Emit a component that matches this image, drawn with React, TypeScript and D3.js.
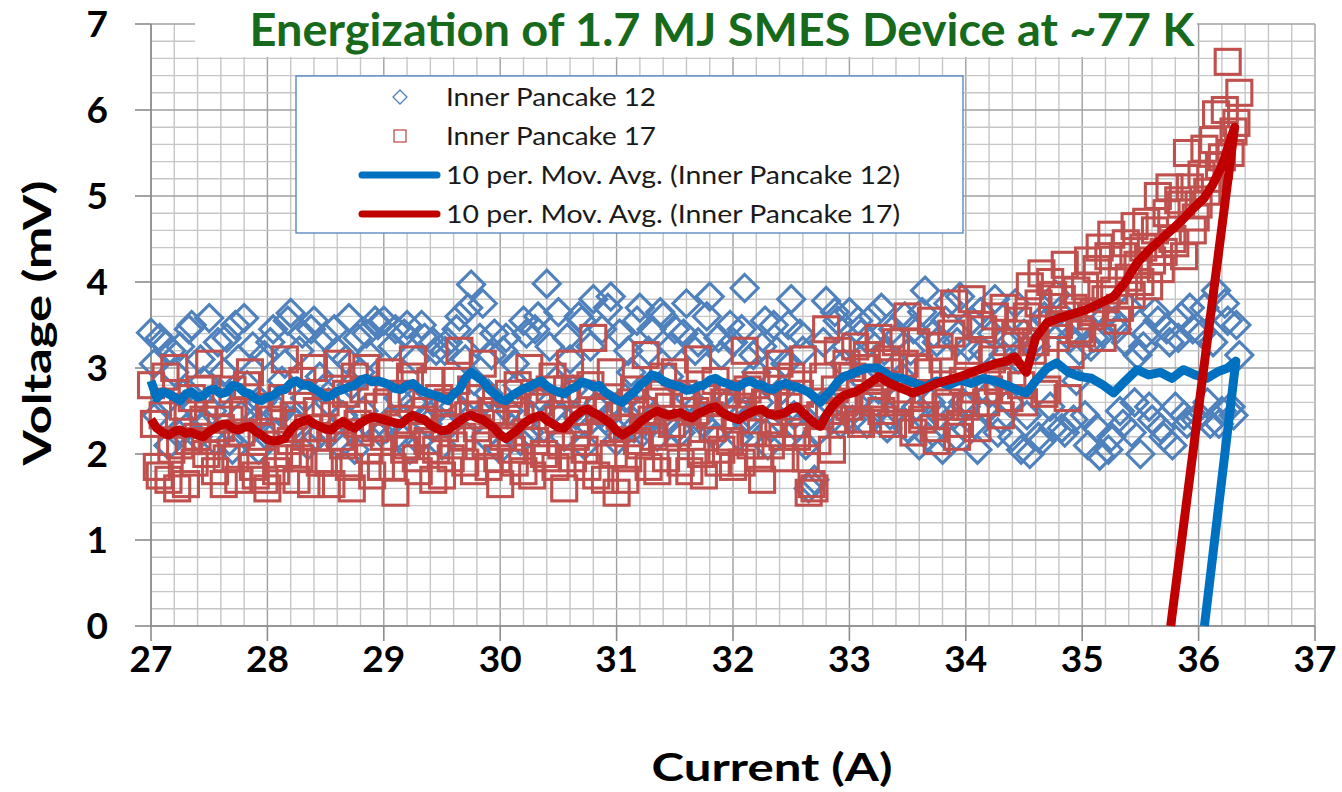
import React from 'react';
import * as d3 from 'd3';

// ---------- data ----------
const currents = [
  27, 27.025, 27.05, 27.075, 27.1, 27.125, 27.15, 27.175, 27.2, 27.225, 27.25, 27.275, 27.3, 27.325, 27.35, 27.375, 27.4, 27.425, 27.45, 27.475,
  27.5, 27.525, 27.55, 27.575, 27.6, 27.625, 27.65, 27.675, 27.7, 27.725, 27.75, 27.775, 27.8, 27.825, 27.85, 27.875, 27.9, 27.925, 27.95, 27.975,
  28, 28.025, 28.05, 28.075, 28.1, 28.125, 28.15, 28.175, 28.2, 28.225, 28.25, 28.275, 28.3, 28.325, 28.35, 28.375, 28.4, 28.425, 28.45, 28.475,
  28.5, 28.525, 28.55, 28.575, 28.6, 28.625, 28.65, 28.675, 28.7, 28.725, 28.75, 28.775, 28.8, 28.825, 28.85, 28.875, 28.9, 28.925, 28.95, 28.975,
  29, 29.025, 29.05, 29.075, 29.1, 29.125, 29.15, 29.175, 29.2, 29.225, 29.25, 29.275, 29.3, 29.325, 29.35, 29.375, 29.4, 29.425, 29.45, 29.475,
  29.5, 29.525, 29.55, 29.575, 29.6, 29.625, 29.65, 29.675, 29.7, 29.725, 29.75, 29.775, 29.8, 29.825, 29.85, 29.875, 29.9, 29.925, 29.95, 29.975,
  30, 30.025, 30.05, 30.075, 30.1, 30.125, 30.15, 30.175, 30.2, 30.225, 30.25, 30.275, 30.3, 30.325, 30.35, 30.375, 30.4, 30.425, 30.45, 30.475,
  30.5, 30.525, 30.55, 30.575, 30.6, 30.625, 30.65, 30.675, 30.7, 30.725, 30.75, 30.775, 30.8, 30.825, 30.85, 30.875, 30.9, 30.925, 30.95, 30.975,
  31, 31.025, 31.05, 31.075, 31.1, 31.125, 31.15, 31.175, 31.2, 31.225, 31.25, 31.275, 31.3, 31.325, 31.35, 31.375, 31.4, 31.425, 31.45, 31.475,
  31.5, 31.525, 31.55, 31.575, 31.6, 31.625, 31.65, 31.675, 31.7, 31.725, 31.75, 31.775, 31.8, 31.825, 31.85, 31.875, 31.9, 31.925, 31.95, 31.975,
  32, 32.025, 32.05, 32.075, 32.1, 32.125, 32.15, 32.175, 32.2, 32.225, 32.25, 32.275, 32.3, 32.325, 32.35, 32.375, 32.4, 32.425, 32.45, 32.475,
  32.5, 32.525, 32.55, 32.575, 32.6, 32.625, 32.65, 32.675, 32.7, 32.725, 32.75, 32.775, 32.8, 32.825, 32.85, 32.875, 32.9, 32.925, 32.95, 32.975,
  33, 33.025, 33.05, 33.075, 33.1, 33.125, 33.15, 33.175, 33.2, 33.225, 33.25, 33.275, 33.3, 33.325, 33.35, 33.375, 33.4, 33.425, 33.45, 33.475,
  33.5, 33.525, 33.55, 33.575, 33.6, 33.625, 33.65, 33.675, 33.7, 33.725, 33.75, 33.775, 33.8, 33.825, 33.85, 33.875, 33.9, 33.925, 33.95, 33.975,
  34, 34.025, 34.05, 34.075, 34.1, 34.125, 34.15, 34.175, 34.2, 34.225, 34.25, 34.275, 34.3, 34.325, 34.35, 34.375, 34.4, 34.425, 34.45, 34.475,
  34.5, 34.525, 34.55, 34.575, 34.6, 34.625, 34.65, 34.675, 34.7, 34.725, 34.75, 34.775, 34.8, 34.825, 34.85, 34.875, 34.9, 34.925, 34.95, 34.975,
  35, 35.025, 35.05, 35.075, 35.1, 35.125, 35.15, 35.175, 35.2, 35.225, 35.25, 35.275, 35.3, 35.325, 35.35, 35.375, 35.4, 35.425, 35.45, 35.475,
  35.5, 35.525, 35.55, 35.575, 35.6, 35.625, 35.65, 35.675, 35.7, 35.725, 35.75, 35.775, 35.8, 35.825, 35.85, 35.875, 35.9, 35.925, 35.95, 35.975,
  36, 36.025, 36.05, 36.075, 36.1, 36.125, 36.15, 36.175, 36.2, 36.225, 36.25, 36.275, 36.3, 36.325, 36.35,
];

const innerPancake12 = [
  3.41, 3.05, 2.45, 3.35, 3.30, 2.60, 2.10, 3.20, 2.95, 2.25, 3.25, 2.70, 2.30, 3.45, 3.50, 2.55, 2.20, 3.10, 2.85, 2.35,
  3.58, 2.50, 2.15, 3.30, 2.70, 2.95, 3.35, 2.15, 2.05, 3.50, 3.10, 2.45, 3.58, 2.80, 2.25, 3.25, 2.40, 2.05, 2.60, 3.15,
  2.20, 3.30, 3.45, 2.25, 2.50, 2.85, 3.05, 3.55, 3.64, 2.40, 2.35, 3.20, 3.40, 2.65, 2.10, 3.45, 3.55, 2.20, 2.90, 2.75,
  3.35, 2.60, 2.25, 3.45, 3.20, 2.10, 2.45, 3.10, 3.58, 2.80, 2.05, 3.35, 2.95, 2.50, 3.40, 3.15, 2.30, 3.55, 3.50, 2.25,
  3.55, 2.30, 2.40, 3.25, 3.45, 2.65, 2.20, 3.40, 3.50, 2.05, 2.60, 3.10, 2.15, 3.50, 3.35, 2.35, 2.45, 3.30, 3.20, 2.55,
  2.10, 3.20, 3.30, 2.35, 2.55, 3.45, 3.60, 2.50, 3.10, 3.70, 3.97, 2.85, 2.40, 3.35, 3.75, 2.20, 2.70, 3.15, 3.40, 2.45,
  2.05, 3.20, 3.35, 2.50, 2.30, 3.05, 2.80, 2.15, 3.55, 3.40, 2.25, 2.70, 3.45, 3.60, 2.65, 2.30, 3.98, 3.25, 2.50, 2.85,
  3.65, 2.45, 2.20, 3.35, 3.10, 2.75, 2.45, 3.60, 3.55, 2.10, 2.35, 3.25, 3.80, 2.55, 2.60, 3.45, 2.40, 3.70, 3.83, 2.30,
  2.15, 3.40, 2.40, 2.65, 3.20, 2.95, 2.30, 3.55, 3.70, 2.25, 2.55, 3.20, 3.45, 2.45, 2.20, 3.65, 3.60, 2.35, 2.90, 3.25,
  3.45, 2.30, 2.25, 3.40, 3.75, 2.65, 2.50, 3.20, 3.30, 2.45, 2.35, 3.60, 3.83, 2.25, 2.20, 3.35, 3.15, 2.70, 2.60, 3.50,
  3.30, 2.55, 2.20, 3.45, 3.93, 2.35, 2.45, 3.15, 2.95, 2.60, 3.25, 3.55, 2.10, 2.30, 3.50, 3.20, 2.40, 2.75, 3.05, 3.50,
  3.80, 2.45, 2.30, 3.40, 3.20, 2.10, 1.60, 1.65, 1.70, 2.25, 2.55, 3.30, 3.78, 2.60, 2.40, 3.65, 3.55, 2.35, 3.05, 3.25,
  3.65, 2.40, 2.60, 3.55, 3.40, 2.85, 2.35, 3.30, 3.60, 2.50, 2.75, 3.70, 3.20, 2.30, 2.45, 3.45, 3.35, 2.65, 2.90, 3.60,
  2.30, 3.20, 3.45, 2.55, 2.10, 3.65, 3.90, 2.20, 2.60, 3.40, 3.30, 2.45, 2.05, 3.55, 3.75, 2.15, 2.45, 3.30, 3.83, 2.60,
  2.55, 3.25, 3.55, 2.35, 2.05, 3.65, 3.20, 2.50, 2.70, 3.40, 3.80, 2.25, 2.40, 3.15, 3.35, 2.60, 2.20, 3.75, 3.10, 2.05,
  3.40, 2.45, 2.00, 3.30, 3.25, 2.20, 2.15, 3.60, 3.55, 2.55, 2.30, 3.85, 3.65, 2.30, 2.25, 3.50, 3.35, 2.40, 2.85, 3.20,
  3.50, 2.45, 2.10, 3.25, 3.35, 2.30, 1.98, 3.40, 3.60, 2.05, 2.20, 3.55, 3.45, 2.50, 2.35, 3.30, 3.70, 2.25, 2.60, 3.15,
  2.00, 3.25, 3.40, 2.55, 2.40, 3.65, 3.55, 2.30, 2.20, 3.45, 3.30, 2.10, 2.55, 3.35, 3.60, 2.45, 2.35, 3.70, 3.45, 2.40,
  2.45, 3.40, 3.70, 2.60, 2.35, 3.30, 3.90, 2.35, 2.50, 3.75, 3.55, 2.55, 2.45, 3.50, 3.15,
];

const innerPancake17 = [
  2.80, 2.35, 1.85, 1.75, 2.45, 2.90, 1.70, 2.05, 3.00, 1.60, 2.10, 2.55, 1.65, 2.15, 2.65, 1.90, 2.20, 2.75, 2.40, 2.00,
  3.05, 2.15, 1.80, 2.60, 2.30, 1.65, 1.95, 2.40, 2.75, 1.95, 1.70, 2.25, 2.50, 2.80, 2.95, 1.85, 1.75, 2.50, 2.20, 1.70,
  1.60, 2.55, 2.40, 1.80, 1.95, 2.65, 3.10, 2.00, 2.15, 2.45, 1.70, 1.95, 2.85, 2.20, 2.30, 1.65, 3.00, 2.50, 1.90, 2.30,
  2.60, 1.90, 1.65, 2.45, 3.05, 2.20, 2.10, 2.70, 1.85, 1.60, 2.90, 2.35, 2.25, 2.75, 3.00, 2.05, 1.75, 2.30, 2.55, 1.85,
  2.20, 2.60, 2.95, 1.85, 1.55, 2.35, 2.70, 2.05, 2.10, 2.90, 3.10, 1.95, 1.80, 2.40, 2.50, 2.15, 2.85, 1.70, 2.05, 2.65,
  1.75, 2.30, 2.60, 1.95, 2.10, 2.85, 3.20, 2.20, 1.90, 2.45, 2.75, 1.80, 2.30, 2.65, 3.05, 2.10, 1.85, 2.50, 2.45, 1.95,
  1.65, 2.20, 2.35, 2.70, 2.05, 1.90, 2.80, 2.45, 1.80, 2.25, 3.00, 1.75, 2.15, 2.60, 2.55, 2.00, 1.95, 2.75, 2.90, 1.85,
  2.40, 2.10, 1.60, 2.75, 3.05, 1.95, 2.20, 2.40, 2.70, 2.05, 1.85, 2.80, 3.35, 1.75, 2.50, 2.25, 1.70, 2.55, 2.95, 2.00,
  1.55, 2.45, 2.30, 1.70, 1.95, 2.60, 2.75, 2.15, 2.10, 2.50, 3.15, 1.85, 2.40, 2.20, 1.80, 2.70, 2.90, 1.95, 2.55, 2.35,
  2.95, 2.25, 1.90, 2.70, 2.60, 1.80, 2.20, 2.50, 3.10, 2.00, 1.75, 2.65, 2.45, 2.30, 2.85, 1.90, 2.05, 2.60, 2.70, 2.15,
  1.85, 2.40, 2.55, 1.90, 3.20, 2.75, 2.10, 2.25, 2.80, 1.95, 1.70, 2.60, 2.65, 2.10, 2.35, 2.85, 3.05, 2.20, 1.95, 2.55,
  2.90, 2.35, 2.20, 2.70, 3.10, 1.95, 1.55, 1.65, 1.60, 2.15, 2.45, 2.90, 3.45, 2.50, 2.05, 2.75, 3.20, 2.40, 2.60, 3.05,
  2.55, 2.90, 3.25, 2.40, 2.35, 3.00, 3.15, 2.65, 2.60, 2.85, 3.35, 2.50, 2.40, 3.10, 2.95, 2.35, 3.30, 2.60, 2.75, 3.05,
  3.60, 2.65, 2.25, 3.30, 3.00, 2.40, 2.45, 2.95, 3.55, 2.30, 2.15, 3.25, 3.10, 2.55, 2.60, 3.40, 3.75, 2.20, 2.35, 2.85,
  2.55, 3.20, 3.80, 2.75, 2.30, 3.50, 3.45, 2.60, 2.75, 3.10, 3.60, 2.85, 2.45, 3.70, 3.30, 2.65, 2.90, 3.40, 3.55, 2.80,
  2.60, 3.60, 3.95, 3.20, 3.30, 3.75, 4.10, 2.70, 2.75, 4.00, 3.85, 3.35, 3.50, 3.80, 4.20, 2.65, 3.15, 3.70, 3.90, 3.45,
  3.40, 3.95, 4.25, 3.60, 3.65, 4.15, 4.40, 3.35, 3.80, 4.30, 4.55, 3.90, 3.55, 3.70, 4.30, 4.45, 4.05, 3.85, 4.65, 4.20,
  4.00, 4.40, 4.70, 3.95, 4.25, 4.60, 5.00, 4.15, 4.35, 4.80, 5.10, 4.50, 4.45, 4.95, 4.90, 4.30, 5.50, 5.10, 4.60, 4.75,
  4.90, 5.25, 5.55, 5.05, 5.20, 5.65, 5.95, 5.35, 5.45, 6.00, 6.56, 5.50, 5.75, 5.85, 6.20,
];

// 10-period moving-average trendlines as drawn
const movAvg12Current = [
  27, 27.05, 27.1, 27.15, 27.2, 27.25, 27.3, 27.35, 27.4, 27.45, 27.5, 27.55, 27.6, 27.65, 27.7, 27.75, 27.8, 27.85, 27.9, 27.95,
  28, 28.05, 28.1, 28.15, 28.2, 28.25, 28.3, 28.35, 28.4, 28.45, 28.5, 28.55, 28.6, 28.65, 28.7, 28.75, 28.8, 28.85, 28.9, 28.95,
  29, 29.05, 29.1, 29.15, 29.2, 29.25, 29.3, 29.35, 29.4, 29.45, 29.5, 29.55, 29.6, 29.65, 29.7, 29.75, 29.8, 29.85, 29.9, 29.95,
  30, 30.05, 30.1, 30.15, 30.2, 30.25, 30.3, 30.35, 30.4, 30.45, 30.5, 30.55, 30.6, 30.65, 30.7, 30.75, 30.8, 30.85, 30.9, 30.95,
  31, 31.05, 31.1, 31.15, 31.2, 31.25, 31.3, 31.35, 31.4, 31.45, 31.5, 31.55, 31.6, 31.65, 31.7, 31.75, 31.8, 31.85, 31.9, 31.95,
  32, 32.05, 32.1, 32.15, 32.2, 32.25, 32.3, 32.35, 32.4, 32.45, 32.5, 32.55, 32.6, 32.65, 32.7, 32.75, 32.8, 32.85, 32.9, 32.95,
  33, 33.05, 33.15, 33.25, 33.35, 33.45, 33.55, 33.65, 33.75, 33.85, 33.95,
  34.05, 34.15, 34.25, 34.35, 34.45, 34.52, 34.6, 34.7, 34.78, 34.88, 34.98,
  35.08, 35.18, 35.27, 35.37, 35.47, 35.57, 35.67, 35.77, 35.87, 35.97,
  36.07, 36.17, 36.25, 36.32, 36.05,
];
const movAvg12Voltage = [
  2.85, 2.65, 2.72, 2.70, 2.66, 2.62, 2.70, 2.72, 2.66, 2.68, 2.74, 2.75, 2.70, 2.72, 2.80, 2.78, 2.72, 2.70, 2.64, 2.62,
  2.66, 2.68, 2.74, 2.75, 2.82, 2.85, 2.80, 2.80, 2.76, 2.72, 2.66, 2.68, 2.73, 2.75, 2.78, 2.80, 2.86, 2.88, 2.84, 2.85,
  2.83, 2.80, 2.76, 2.75, 2.80, 2.82, 2.76, 2.72, 2.70, 2.68, 2.65, 2.62, 2.70, 2.75, 2.88, 2.95, 2.90, 2.85, 2.76, 2.70,
  2.64, 2.62, 2.68, 2.72, 2.76, 2.78, 2.82, 2.85, 2.79, 2.75, 2.72, 2.70, 2.75, 2.78, 2.84, 2.82, 2.78, 2.80, 2.72, 2.68,
  2.63, 2.60, 2.67, 2.72, 2.80, 2.85, 2.92, 2.90, 2.85, 2.82, 2.80, 2.78, 2.74, 2.75, 2.79, 2.80, 2.86, 2.88, 2.84, 2.82,
  2.79, 2.78, 2.83, 2.85, 2.81, 2.80, 2.76, 2.75, 2.80, 2.82, 2.79, 2.78, 2.75, 2.72, 2.66, 2.60, 2.68, 2.75, 2.84, 2.90,
  2.92, 2.95, 3.00, 3.00, 2.90, 2.88, 2.83, 2.78, 2.85, 2.80, 2.86,
  2.82, 2.88, 2.85, 2.80, 2.74, 2.71, 2.85, 3.00, 3.06, 2.95, 2.90,
  2.88, 2.80, 2.71, 2.85, 2.98, 2.92, 2.95, 2.88, 2.98, 2.92,
  2.88, 2.96, 3.00, 3.08, 0.00,
];

const movAvg17Current = [
  27, 27.05, 27.1, 27.15, 27.2, 27.25, 27.3, 27.35, 27.4, 27.45, 27.5, 27.55, 27.6, 27.65, 27.7, 27.75, 27.8, 27.85, 27.9, 27.95,
  28, 28.05, 28.1, 28.15, 28.2, 28.25, 28.3, 28.35, 28.4, 28.45, 28.5, 28.55, 28.6, 28.65, 28.7, 28.75, 28.8, 28.85, 28.9, 28.95,
  29, 29.05, 29.1, 29.15, 29.2, 29.25, 29.3, 29.35, 29.4, 29.45, 29.5, 29.55, 29.6, 29.65, 29.7, 29.75, 29.8, 29.85, 29.9, 29.95,
  30, 30.05, 30.1, 30.15, 30.2, 30.25, 30.3, 30.35, 30.4, 30.45, 30.5, 30.55, 30.6, 30.65, 30.7, 30.75, 30.8, 30.85, 30.9, 30.95,
  31, 31.05, 31.1, 31.15, 31.2, 31.25, 31.3, 31.35, 31.4, 31.45, 31.5, 31.55, 31.6, 31.65, 31.7, 31.75, 31.8, 31.85, 31.9, 31.95,
  32, 32.05, 32.1, 32.15, 32.2, 32.25, 32.3, 32.35, 32.4, 32.45, 32.5, 32.55, 32.6, 32.65, 32.7, 32.75, 32.8, 32.85, 32.9, 32.95,
  33, 33.05, 33.15, 33.25, 33.35, 33.45, 33.55, 33.65, 33.75, 33.85, 33.95,
  34.05, 34.15, 34.25, 34.35, 34.42, 34.52, 34.6, 34.7, 34.8, 34.9,
  35.04, 35.15, 35.27, 35.37, 35.47, 35.58, 35.68, 35.78, 35.88, 35.95,
  36.05, 36.12, 36.2, 36.26, 36.31, 35.76,
];
const movAvg17Voltage = [
  2.40, 2.30, 2.25, 2.22, 2.26, 2.28, 2.24, 2.25, 2.22, 2.20, 2.26, 2.30, 2.34, 2.35, 2.30, 2.28, 2.31, 2.32, 2.26, 2.22,
  2.17, 2.15, 2.16, 2.18, 2.28, 2.35, 2.38, 2.40, 2.35, 2.32, 2.29, 2.28, 2.34, 2.38, 2.33, 2.30, 2.36, 2.40, 2.43, 2.42,
  2.40, 2.38, 2.36, 2.35, 2.41, 2.45, 2.42, 2.40, 2.34, 2.30, 2.27, 2.28, 2.33, 2.38, 2.43, 2.45, 2.42, 2.40, 2.35, 2.30,
  2.22, 2.18, 2.23, 2.28, 2.35, 2.40, 2.43, 2.45, 2.39, 2.35, 2.31, 2.30, 2.38, 2.45, 2.50, 2.52, 2.48, 2.45, 2.40, 2.35,
  2.27, 2.22, 2.26, 2.30, 2.37, 2.42, 2.47, 2.50, 2.47, 2.45, 2.47, 2.48, 2.44, 2.42, 2.47, 2.50, 2.53, 2.55, 2.49, 2.45,
  2.42, 2.40, 2.45, 2.48, 2.51, 2.52, 2.47, 2.45, 2.46, 2.48, 2.53, 2.55, 2.48, 2.42, 2.36, 2.32, 2.45, 2.55, 2.62, 2.68,
  2.70, 2.72, 2.80, 2.90, 2.82, 2.76, 2.71, 2.76, 2.82, 2.86, 2.90,
  2.95, 3.00, 3.05, 3.08, 3.13, 2.95, 3.35, 3.53, 3.58, 3.62,
  3.68, 3.75, 3.83, 4.00, 4.22, 4.38, 4.50, 4.62, 4.75, 4.85,
  4.98, 5.13, 5.35, 5.60, 5.80, 0.00,
];

const xTickValues = [27, 28, 29, 30, 31, 32, 33, 34, 35, 36, 37];
const yTickValues = [0, 1, 2, 3, 4, 5, 6, 7];
const chartTitle = 'Energization of 1.7 MJ SMES Device at ~77 K';
const xAxisTitle = 'Current (A)';
const yAxisTitle = 'Voltage (mV)';
const legendLabels = [
  'Inner Pancake 12',
  'Inner Pancake 17',
  '10 per. Mov. Avg. (Inner Pancake 12)',
  '10 per. Mov. Avg. (Inner Pancake 17)',
];

const FONT = 'Lato, Carlito, Calibri, "Noto Sans", sans-serif';
const BLUE_MK = '#4f81bd';
const RED_MK = '#c0504d';
const BLUE_LN = '#0070c0';
const RED_LN = '#c00000';

export default function App() {
  const W = 1342;
  const H = 792;
  const x = d3.scaleLinear().domain([27, 37]).range([151, 1315]);
  const y = d3.scaleLinear().domain([0, 7]).range([626, 24]);

  const minorX = d3.range(27, 37.0001, 0.2).map((v) => +v.toFixed(1));
  const minorY = d3.range(0, 7.0001, 0.2).map((v) => +v.toFixed(1));

  const line = d3
    .line<[number, number]>()
    .x((d) => x(d[0]))
    .y((d) => y(d[1]));

  const ma12 = movAvg12Current.map((c, i) => [c, movAvg12Voltage[i]] as [number, number]);
  const ma17 = movAvg17Current.map((c, i) => [c, movAvg17Voltage[i]] as [number, number]);

  const dHalf = 13.5;
  const sHalf = 12.5;
  const diamond = `M0,${-dHalf}L${dHalf},0L0,${dHalf}L${-dHalf},0Z`;

  const legRows = [97, 136, 175, 214];

  return (
    <svg
      width={W}
      height={H}
      style={{ position: 'absolute', left: 0, top: 0, background: '#fff' }}
      fontFamily={FONT}
    >
      <rect x={0} y={0} width={W} height={H} fill="#fff" />
      {/* grid */}
      <g>
        {minorX.map((v) => (
          <line
            key={'mx' + v}
            x1={x(v)}
            x2={x(v)}
            y1={y(0)}
            y2={y(7)}
            stroke={Number.isInteger(v) ? '#a0a0a0' : '#c6c6c6'}
            strokeWidth={1.4}
          />
        ))}
        {minorY.map((v) => (
          <line
            key={'my' + v}
            x1={x(27)}
            x2={x(37)}
            y1={y(v)}
            y2={y(v)}
            stroke={Number.isInteger(v) ? '#a0a0a0' : '#c6c6c6'}
            strokeWidth={1.4}
          />
        ))}
      </g>
      {/* axes */}
      <line x1={x(27)} x2={x(27)} y1={y(0)} y2={y(7)} stroke="#8c8c8c" strokeWidth={1.6} />
      <line x1={x(27)} x2={x(37)} y1={y(0)} y2={y(0)} stroke="#8c8c8c" strokeWidth={1.6} />
      {xTickValues.map((v) => (
        <g key={'xt' + v}>
          <line x1={x(v)} x2={x(v)} y1={y(0)} y2={y(0) + 15} stroke="#8c8c8c" strokeWidth={1.6} />
          <text x={x(v)} y={672} textAnchor="middle" fontSize={37} fontWeight="bold" fill="#000">
            {v}
          </text>
        </g>
      ))}
      {yTickValues.map((v) => (
        <g key={'yt' + v}>
          <line x1={x(27) - 16} x2={x(27)} y1={y(v)} y2={y(v)} stroke="#8c8c8c" strokeWidth={1.6} />
          <text x={108} y={y(v) + 13} textAnchor="end" fontSize={37} fontWeight="bold" fill="#000">
            {v}
          </text>
        </g>
      ))}

      {/* scatter: Inner Pancake 12 */}
      <g fill="none" stroke={BLUE_MK} strokeWidth={3.1}>
        {currents.map((c, i) => (
          <path key={'b' + i} d={diamond} transform={`translate(${x(c)},${y(innerPancake12[i])})`} />
        ))}
      </g>
      {/* scatter: Inner Pancake 17 */}
      <g fill="none" stroke={RED_MK} strokeWidth={3.1}>
        {currents.map((c, i) => (
          <rect
            key={'r' + i}
            x={x(c) - sHalf}
            y={y(innerPancake17[i]) - sHalf}
            width={sHalf * 2}
            height={sHalf * 2}
          />
        ))}
      </g>

      {/* moving averages */}
      <path d={line(ma12) || ''} fill="none" stroke={BLUE_LN} strokeWidth={9} strokeLinejoin="round" />
      <path d={line(ma17) || ''} fill="none" stroke={RED_LN} strokeWidth={9} strokeLinejoin="round" />

      {/* title background + title */}
      <rect x={195} y={0} width={1002} height={57} fill="#fff" />
      <text
        x={722}
        y={46}
        textAnchor="middle"
        fontSize={46}
        fontWeight="bold"
        fill="#17691b"
        textLength={945}
        lengthAdjust="spacingAndGlyphs"
      >
        {chartTitle}
      </text>

      {/* legend */}
      <rect x={296} y={76} width={667} height={157} fill="#fff" stroke={BLUE_MK} strokeWidth={1.3} />
      <path
        d="M0,-7L7,0L0,7L-7,0Z"
        transform={`translate(400,${legRows[0]})`}
        fill="none"
        stroke={BLUE_MK}
        strokeWidth={1.3}
      />
      <rect x={394} y={legRows[1] - 6} width={12} height={12} fill="none" stroke={RED_MK} strokeWidth={1.3} />
      <line x1={362} x2={437} y1={legRows[2]} y2={legRows[2]} stroke={BLUE_LN} strokeWidth={7} strokeLinecap="round" />
      <line x1={362} x2={437} y1={legRows[3]} y2={legRows[3]} stroke={RED_LN} strokeWidth={7} strokeLinecap="round" />
      {legendLabels.map((t, i) => (
        <text
          key={'lg' + i}
          x={446}
          y={legRows[i] + 9}
          fontSize={25}
          fill="#1a1a1a"
          textLength={i < 2 ? 210 : 454}
          lengthAdjust="spacingAndGlyphs"
        >
          {t}
        </text>
      ))}

      {/* axis titles */}
      <text
        x={772}
        y={781}
        textAnchor="middle"
        fontSize={39}
        fontWeight="bold"
        fill="#000"
        textLength={241}
        lengthAdjust="spacingAndGlyphs"
      >
        {xAxisTitle}
      </text>
      <text
        transform="translate(51,323) rotate(-90)"
        textAnchor="middle"
        fontSize={39}
        fontWeight="bold"
        fill="#000"
        textLength={285}
        lengthAdjust="spacingAndGlyphs"
      >
        {yAxisTitle}
      </text>
    </svg>
  );
}
